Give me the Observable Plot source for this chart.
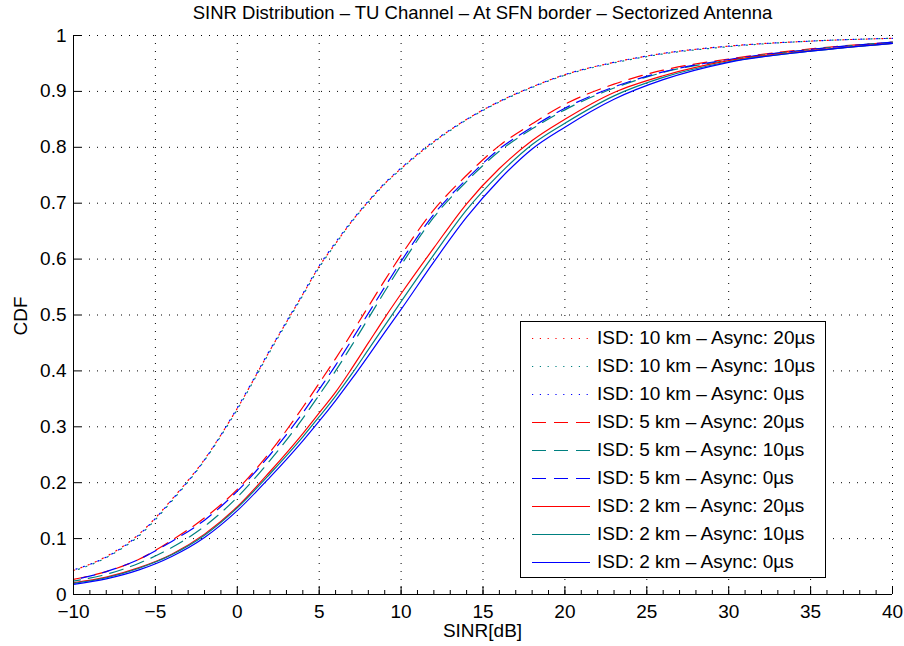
<!DOCTYPE html>
<html>
<head>
<meta charset="utf-8">
<script src="https://cdn.jsdelivr.net/npm/d3@7"></script>
<script src="https://cdn.jsdelivr.net/npm/@observablehq/plot@0.6"></script>
<style>
  body { margin: 0; background: #fff; font-family: "Liberation Sans", Arial, Helvetica, sans-serif; }
  #wrap { position: relative; width: 904px; height: 646px; overflow: hidden; background: #fff; }
  #title { position: absolute; left: 61px; width: 843px; top: 0; height: 26px; line-height: 26px; text-align: center; font-size: 18.5px; color: #000; white-space: nowrap; }
  #chart { position: absolute; left: 0; top: 26px; }
  #xlabel { position: absolute; left: 61px; width: 843px; top: 623px; line-height: 15px; font-size: 19px; text-align: center; }
  #ylabel { position: absolute; left: 20px; top: 316px; line-height: 1; font-size: 19px; transform: translate(-50%, -50%) rotate(-90deg); white-space: nowrap; }
  #legend { position: absolute; left: 520px; top: 321px; width: 306px; height: 257px; box-sizing: border-box; border: 1px solid #000; background: #fff; padding-top: 2px; }
  #legend .row { display: flex; align-items: center; height: 28px; font-size: 19px; white-space: nowrap; }
  #legend svg { margin-left: 11px; flex: none; }
  #legend span { margin-left: 7px; }
</style>
</head>
<body>
<div id="wrap">
  <div id="title">SINR Distribution – TU Channel – At SFN border – Sectorized Antenna</div>
  <div id="chart"></div>
  <div id="xlabel">SINR[dB]</div>
  <div id="ylabel">CDF</div>
  <div id="legend"></div>
</div>
<script>
// ---- data ----
const sinr = [-10, -8, -6, -4, -2, 0, 2, 4, 5, 6, 7, 8, 9, 10, 12, 14, 16, 18, 20, 23, 26, 30, 35, 40];

const isd10_async20 = [0.043, 0.068, 0.108, 0.170, 0.242, 0.333, 0.437, 0.537, 0.587, 0.628, 0.668, 0.703, 0.735, 0.762, 0.810, 0.850, 0.882, 0.908, 0.930, 0.952, 0.968, 0.981, 0.990, 0.995];
const isd10_async10 = [0.042, 0.066, 0.105, 0.167, 0.240, 0.331, 0.435, 0.535, 0.585, 0.627, 0.667, 0.702, 0.734, 0.761, 0.809, 0.849, 0.881, 0.907, 0.929, 0.951, 0.967, 0.980, 0.990, 0.995];
const isd10_async0  = [0.044, 0.067, 0.107, 0.169, 0.241, 0.334, 0.438, 0.538, 0.588, 0.630, 0.669, 0.704, 0.736, 0.763, 0.811, 0.850, 0.882, 0.908, 0.930, 0.952, 0.968, 0.981, 0.990, 0.995];

const isd5_async20 = [0.027, 0.041, 0.063, 0.097, 0.137, 0.188, 0.255, 0.335, 0.378, 0.422, 0.468, 0.515, 0.562, 0.607, 0.688, 0.750, 0.803, 0.842, 0.877, 0.913, 0.938, 0.958, 0.976, 0.988];
const isd5_async10 = [0.024, 0.036, 0.056, 0.084, 0.122, 0.174, 0.240, 0.315, 0.357, 0.400, 0.446, 0.494, 0.542, 0.589, 0.675, 0.739, 0.793, 0.833, 0.867, 0.906, 0.934, 0.956, 0.975, 0.988];
const isd5_async0  = [0.026, 0.041, 0.063, 0.095, 0.133, 0.185, 0.250, 0.325, 0.367, 0.410, 0.456, 0.503, 0.550, 0.596, 0.680, 0.743, 0.797, 0.836, 0.870, 0.908, 0.935, 0.957, 0.975, 0.988];

const isd2_async20 = [0.021, 0.031, 0.048, 0.072, 0.108, 0.157, 0.220, 0.288, 0.325, 0.362, 0.405, 0.450, 0.495, 0.538, 0.620, 0.699, 0.762, 0.812, 0.850, 0.898, 0.928, 0.955, 0.973, 0.986];
const isd2_async10 = [0.020, 0.030, 0.047, 0.071, 0.106, 0.155, 0.216, 0.282, 0.318, 0.355, 0.395, 0.438, 0.481, 0.524, 0.608, 0.688, 0.752, 0.805, 0.843, 0.892, 0.925, 0.953, 0.972, 0.986];
const isd2_async0  = [0.018, 0.028, 0.044, 0.068, 0.102, 0.150, 0.210, 0.275, 0.310, 0.347, 0.386, 0.427, 0.469, 0.510, 0.595, 0.675, 0.742, 0.797, 0.836, 0.886, 0.921, 0.952, 0.972, 0.986];

const seriesNames = [
  "ISD: 10 km – Async: 20µs", "ISD: 10 km – Async: 10µs", "ISD: 10 km – Async: 0µs",
  "ISD: 5 km – Async: 20µs",  "ISD: 5 km – Async: 10µs",  "ISD: 5 km – Async: 0µs",
  "ISD: 2 km – Async: 20µs",  "ISD: 2 km – Async: 10µs",  "ISD: 2 km – Async: 0µs"
];
const seriesValues = [isd10_async20, isd10_async10, isd10_async0, isd5_async20, isd5_async10, isd5_async0, isd2_async20, isd2_async10, isd2_async0];

const xTicks = [-10, -5, 0, 5, 10, 15, 20, 25, 30, 35, 40];
const xMinorTicks = d3.range(-10, 41, 1);
const yTicks = [0, 0.1, 0.2, 0.3, 0.4, 0.5, 0.6, 0.7, 0.8, 0.9, 1];

// ---- styles ----
const colors = ["#ff0000", "#008080", "#0000ff"];
const dashes = ["1.2,6.6", "14,8", null];
const dashOffsets = [[0, 2.6, 5.2], [0, 7, 14], [0, 0, 0]];
const series = seriesNames.map((name, i) => ({
  name, values: seriesValues[i],
  color: colors[i % 3],
  dash: dashes[Math.floor(i / 3)],
  offset: dashOffsets[Math.floor(i / 3)][i % 3]
}));

const rows = series.flatMap(s => sinr.map((x, j) => ({x, y: s.values[j], name: s.name})));

const W = 904, H = 620, mL = 73, mR = 12, mT = 9, mB = 52;
const innerW = W - mL - mR, innerH = H - mT - mB;
const fmt = d => (d < 0 ? "\u2212" + Math.abs(d) : String(d));
const font = '"Liberation Sans", Arial, Helvetica, sans-serif';

const plot = Plot.plot({
  width: W, height: H,
  marginLeft: mL, marginRight: mR, marginTop: mT, marginBottom: mB,
  x: {domain: [-10, 40], label: null},
  y: {domain: [0, 1], label: null},
  style: {fontFamily: font, fontSize: "19px", background: "white", color: "black", overflow: "visible"},
  marks: [
    Plot.gridX(xTicks, {stroke: "black", strokeOpacity: 1, strokeWidth: 1, strokeDasharray: "1,7"}),
    Plot.gridY(yTicks, {stroke: "black", strokeOpacity: 1, strokeWidth: 1, strokeDasharray: "1,7"}),
    ...series.map(s => Plot.line(rows.filter(r => r.name === s.name), {
      x: "x", y: "y", stroke: s.color, strokeWidth: 1.2,
      strokeDasharray: s.dash || undefined, strokeDashoffset: s.dash ? s.offset : undefined,
      curve: "monotone-x"
    })),
    Plot.ruleX([-10], {stroke: "black", strokeWidth: 1}),
    Plot.ruleY([0], {stroke: "black", strokeWidth: 1}),
    Plot.tickX(xMinorTicks, {x: d => d, stroke: "black", insetTop: innerH - 4}),
    Plot.tickX(xTicks, {x: d => d, stroke: "black", insetTop: innerH - 8}),
    Plot.tickY(yTicks, {y: d => d, stroke: "black", insetRight: innerW - 8}),
    Plot.axisX(xTicks, {tickSize: 0, tickPadding: 10, tickFormat: fmt, label: null, fontSize: 19}),
    Plot.axisY(yTicks, {tickSize: 0, tickPadding: 7, tickFormat: fmt, label: null, fontSize: 19})
  ]
});
document.getElementById("chart").appendChild(plot);

// ---- legend ----
const legend = document.getElementById("legend");
series.forEach(s => {
  const row = document.createElement("div");
  row.className = "row";
  row.innerHTML = `<svg width="58" height="28"><line x1="0" x2="58" y1="14.5" y2="14.5" stroke="${s.color}" stroke-width="1.2"${s.dash ? ` stroke-dasharray="${s.dash}"` : ""}/></svg><span></span>`;
  row.querySelector("span").textContent = s.name;
  legend.appendChild(row);
});
</script>
</body>
</html>
